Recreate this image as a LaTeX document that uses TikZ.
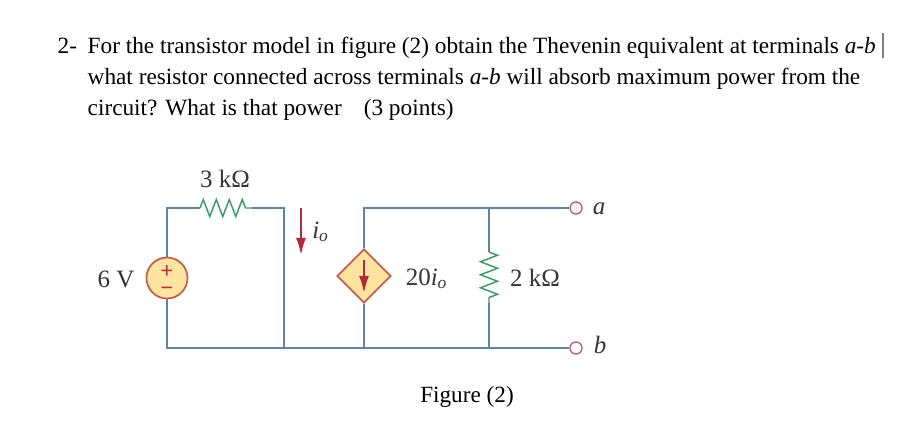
\documentclass[tikz,border=0pt]{standalone}
\usepackage{fontspec}
\usepackage{xcolor}
\usetikzlibrary{shapes.geometric,decorations.pathmorphing,arrows.meta}
\setmainfont{Liberation Serif}
\definecolor{wireblue}{rgb}{0.38, 0.52, 0.63}
\definecolor{resgreen}{rgb}{0.25, 0.60, 0.42}
\definecolor{srcred}{rgb}{0.75, 0.38, 0.30}
\definecolor{termred}{rgb}{0.75, 0.36, 0.42}
\definecolor{arrowred}{rgb}{0.70, 0.16, 0.23}
\definecolor{srcfill}{rgb}{1.0, 0.89, 0.63}
\definecolor{labelgray}{rgb}{0.2, 0.2, 0.22}
\tikzset{
  wire/.style={draw=wireblue,line width=0.38pt},
  res/.style={draw=resgreen,line width=0.42pt,decorate,decoration={zigzag,segment length=0.13cm,amplitude=0.085cm}},
  term/.style={circle,draw=termred,fill=white,line width=0.38pt,inner sep=0pt,minimum size=0.12cm},
  textline/.style={anchor=base west,inner sep=0pt,font=\fontsize{6.62pt}{7pt}\selectfont},
  lab/.style={anchor=base,inner sep=0pt,text=labelgray,font=\fontsize{7.1pt}{8pt}\selectfont},
  sign/.style={inner sep=0pt,align=center,text=arrowred!80!srcred,font=\fontsize{6.5pt}{4.84pt}\selectfont\bfseries},
  redarrow/.style={draw=arrowred,line width=0.6pt,-{Latex[length=0.17cm,width=0.1cm]}}
}
\begin{document}
\begin{tikzpicture}[x=0.01cm,y=-0.01cm]
\useasboundingbox (0,0) rectangle (900,421);
% question
\node[textline] (num) at (57,53) {2-};
\node[textline] (l1) at (87,53) {For the transistor model in figure (2) obtain the Thevenin equivalent at terminals \textit{a-b}};
\node[textline] (l2) at (87,84) {what resistor connected across terminals \textit{a-b} will absorb maximum power from the};
\node[textline] (l3) at (87,115) {circuit? What is that power\hspace{0.22cm}(3 points)};
\coordinate (bar1) at (883,33);
\coordinate (bar2) at (883,58);
\draw[gray,line width=0.3pt] (bar1) -- (bar2);
% corners
\coordinate (tl) at (167,208);
\coordinate (bl) at (167,348);
\coordinate (tm) at (284,208);
\coordinate (bm) at (284,348);
\coordinate (tc) at (364,208);
\coordinate (bc) at (364,348);
\coordinate (tr) at (489,208);
\coordinate (br) at (489,348);
\coordinate (r1a) at (200,208);
\coordinate (r1b) at (252,208);
\coordinate (r2a) at (489,252);
\coordinate (r2b) at (489,303);
% elements
\node[circle,draw=srcred,fill=srcfill,line width=0.5pt,inner sep=0pt,minimum size=0.41cm] (vs) at (167,278) {};
\node[diamond,aspect=1,draw=srcred,fill=srcfill,line width=0.5pt,inner sep=0pt,minimum size=0.54cm] (dep) at (364,276) {};
\node[term] (a) at (576,208) {};
\node[term] (b) at (576,348) {};
% wires
\draw[wire] (vs) -- (tl) -- (r1a);
\draw[res] (r1a) -- (r1b);
\draw[wire] (r1b) -- (tm) -- (bm);
\draw[wire] (vs) -- (bl) -- (b);
\draw[wire] (dep) -- (tc) -- (a);
\draw[wire] (dep) -- (bc);
\draw[wire] (tr) -- (r2a);
\draw[res] (r2a) -- (r2b);
\draw[wire] (r2b) -- (br);
% arrows
\coordinate (io1) at (301,208);
\coordinate (io2) at (301,255);
\draw[redarrow] (io1) -- (io2);
\coordinate (da1) at (364,260);
\coordinate (da2) at (364,293);
\draw[redarrow] (da1) -- (da2);
% labels
\node[sign] (pm) at (167,281) {+\\−};
\node[lab] (r1lab) at (225,187) {3 kΩ};
\node[lab] (vlab) at (116,287) {6 V};
\node[lab] (iolab) at (321,238) {\textit{i}\textsubscript{\textit{o}}};
\node[lab] (glab) at (427,285) {20\textit{i}\textsubscript{\textit{o}}};
\node[lab] (r2lab) at (535,286) {2 kΩ};
\node[lab] (alab) at (599,214) {\textit{a}};
\node[lab] (blab) at (600,353) {\textit{b}};
\node[lab,text=black,font=\fontsize{6.6pt}{7pt}\selectfont] (figlab) at (467,402) {Figure (2)};
\end{tikzpicture}
\end{document}
